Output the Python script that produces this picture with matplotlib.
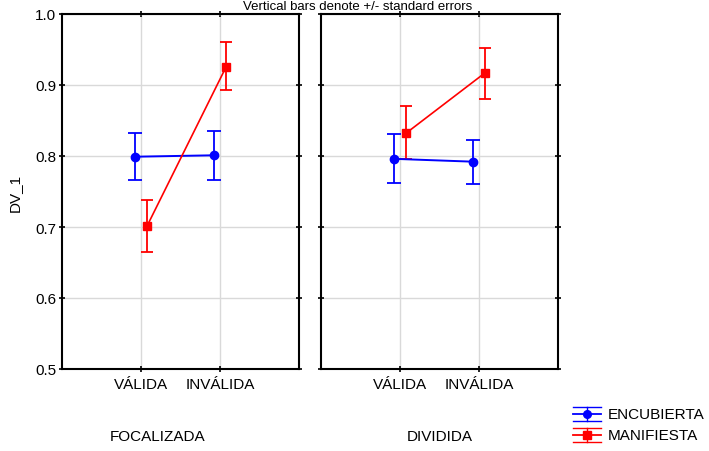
import matplotlib
matplotlib.use("Agg")
import matplotlib.pyplot as plt
from matplotlib.lines import Line2D

plt.rcParams["font.family"] = ["Liberation Sans", "DejaVu Sans"]

# categories and panel groups
cues = ["VÁLIDA", "INVÁLIDA"]
panels = ["FOCALIZADA", "DIVIDIDA"]

# means and bounds of the standard-error bars per panel
enc_mean = [[0.799, 0.801], [0.796, 0.792]]
enc_lo = [[0.766, 0.766], [0.762, 0.761]]
enc_hi = [[0.832, 0.835], [0.831, 0.823]]
man_mean = [[0.701, 0.925], [0.832, 0.917]]
man_lo = [[0.665, 0.893], [0.796, 0.880]]
man_hi = [[0.738, 0.961], [0.870, 0.952]]

yticks = [0.5, 0.6, 0.7, 0.8, 0.9, 1.0]
FS = 11

fig = plt.figure(figsize=(7.09, 4.52), dpi=100)
W, H = 709, 452
boxes = [(62, 299), (321, 558)]
label_x = [158, 440]
top, bot = 15, 370

x = [1, 2]
shift = 0.075
for k, (l, r) in enumerate(boxes):
    ax = fig.add_axes([l / W, 1 - bot / H, (r - l) / W, (bot - top) / H])
    ax.set_xlim(0, 3)
    ax.set_ylim(0.5, 1.0)
    ax.set_xticks(x)
    ax.set_xticklabels(cues, fontsize=FS)
    ax.set_yticks(yticks)
    if k == 0:
        ax.set_yticklabels([f"{v:.1f}" for v in yticks], fontsize=FS)
        ax.set_ylabel("DV_1", fontsize=FS, labelpad=10)
    else:
        ax.set_yticklabels([])
    ax.grid(True, color="#d9d9d9", lw=1.0)
    ax.set_axisbelow(True)
    ax.tick_params(direction="inout", length=4, width=1.2, top=True, right=True, pad=4)
    ax.tick_params(axis="y", pad=2)
    for s in ax.spines.values():
        s.set_linewidth(1.5)

    xe = [v - shift for v in x]
    xm = [v + shift for v in x]
    em = enc_mean[k]
    ax.errorbar(xe, em,
                yerr=[[m - lo for m, lo in zip(em, enc_lo[k])],
                      [hi - m for m, hi in zip(em, enc_hi[k])]],
                color="blue", lw=1.4, marker="o", ms=6, capsize=5, capthick=1.3,
                elinewidth=1.3)
    mm = man_mean[k]
    ax.errorbar(xm, mm,
                yerr=[[m - lo for m, lo in zip(mm, man_lo[k])],
                      [hi - m for m, hi in zip(mm, man_hi[k])]],
                color="red", lw=1.2, marker="s", ms=6, capsize=4.5, capthick=1.3,
                elinewidth=1.3)

    fig.text(label_x[k] / W, 1 - 437 / H, panels[k],
             ha="center", va="center", fontsize=FS)

fig.text(358 / W, 1 - 1 / H, "Vertical bars denote +/- standard errors",
         ha="center", va="top", fontsize=9.5)

# legend handles drawn as small error-bar glyphs
lax = fig.add_axes([0, 0, 1, 1])
lax.set_xlim(0, W)
lax.set_ylim(H, 0)
lax.axis("off")
labels = ["ENCUBIERTA", "MANIFIESTA"]
colors = ["blue", "red"]
markers = ["o", "s"]
for i, (lab, c, mk) in enumerate(zip(labels, colors, markers)):
    yc = 415 + i * 21
    x0, x1 = 573, 601
    lax.add_line(Line2D([x0, x1], [yc - 7, yc - 7], color=c, lw=1))
    lax.add_line(Line2D([x0, x1], [yc + 7, yc + 7], color=c, lw=1))
    lax.add_line(Line2D([x0, x1], [yc, yc], color=c, lw=1.3))
    lax.add_line(Line2D([(x0 + x1) / 2] * 2, [yc - 7, yc + 7], color=c, lw=1))
    lax.add_line(Line2D([(x0 + x1) / 2], [yc], color=c, marker=mk, ms=5.5))
    lax.text(608, yc, lab, va="center", ha="left", fontsize=FS)

fig.savefig("out.png", dpi=100)
